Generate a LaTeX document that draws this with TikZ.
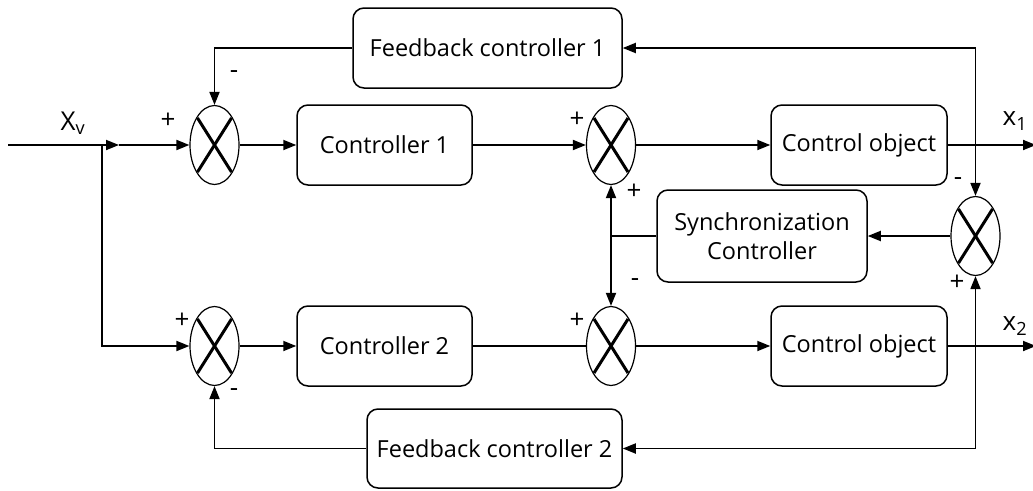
\documentclass[tikz,border=0pt]{standalone}
\usepackage{fontspec}
\setmainfont{Open Sans}
\usetikzlibrary{arrows.meta,shapes.geometric}
\begin{document}
\begin{tikzpicture}[x=1pt,y=-1pt,
 blk/.style={draw, line width=1.5pt, rounded corners=11pt, minimum height=80pt, font=\fontsize{23.5}{29}\selectfont, align=center, inner sep=0},
 sumj/.style={draw, ellipse, line width=1.2pt, minimum width=49pt, minimum height=79pt, inner sep=0},
 conn/.style={line width=1.8pt, -{Triangle[length=13pt,width=10pt]}},
 ln/.style={line width=1.8pt},
 crs/.style={line width=3pt},
 sgn/.style={font=\fontsize{26}{26}\selectfont, inner sep=0},
 lbl/.style={font=\fontsize{26}{26}\selectfont, inner sep=0},
]
\useasboundingbox (0,0) rectangle (1033,490);

% summing junctions
\node[sumj] (j1) at (214.5,145) {};
\node[sumj] (j2) at (611,145) {};
\node[sumj] (j3) at (214.5,346) {};
\node[sumj] (j4) at (611,346) {};
\node[sumj] (j5) at (975.5,236) {};
\foreach \j in {j1,j2,j3,j4,j5}{
  \draw[crs] ([shift={(-17,-27)}]\j.center) -- ([shift={(17,27)}]\j.center);
  \draw[crs] ([shift={(17,-27)}]\j.center) -- ([shift={(-17,27)}]\j.center);
}

% blocks
\node[blk, minimum width=175pt] (c1) at (384.5,145) {Controller 1};
\node[blk, minimum width=175pt] (c2) at (384.5,346) {Controller 2};
\node[blk, minimum width=176pt] (co1) at (859,145) {Control object};
\node[blk, minimum width=176pt] (co2) at (859,346) {Control object};
\node[blk, minimum width=269pt] (fc1) at (487.5,48) {Feedback controller 1};
\node[blk, minimum width=255pt, minimum height=79pt] (fc2) at (494.5,448.5) {Feedback controller 2};
\node[blk, minimum width=210pt, minimum height=92pt] (sc) at (762,236) {Synchronization\\Controller};

% coordinates
\coordinate (in) at (8,145);
\coordinate (br) at (102,145);
\coordinate (mid) at (119,145);
\coordinate (out1) at (1036,145);
\coordinate (out2) at (1036,346);
\coordinate (tap1) at (975.5,145);
\coordinate (tap2) at (975.5,346);
\coordinate (sn) at (611,236);

% connectors
\draw[conn] (in) -- (mid);
\draw[conn] (mid) -- (j1.west);
\draw[conn] (br) |- (j3.west);
\draw[conn] (j1.east) -- (c1.west);
\draw[conn] (c1.east) -- (j2.west);
\draw[conn] (j2.east) -- (co1.west);
\draw[conn] (co1.east) -- (out1);
\draw[conn] (j3.east) -- (c2.west);
\draw[ln] (c2.east) -- (j4.west);
\draw[conn] (j4.east) -- (co2.west);
\draw[conn] (co2.east) -- (out2);
\draw[conn] (tap1) |- (fc1.east);
\draw[conn] (tap1) -- (j5.north);
\draw[conn] (fc1.west) -| (j1.north);
\draw[conn] (tap2) |- (fc2.east);
\draw[conn] (tap2) -- (j5.south);
\draw[conn] (fc2.west) -| (j3.south);
\draw[conn] (j5.west) -- (sc.east);
\draw[ln] (sc.west) -- (sn);
\draw[conn] (sn) -- (j2.south);
\draw[conn] (sn) -- (j4.north);

% signs
\node[sgn] (s1) at (168,121) {+};
\node[sgn] (s2) at (234,75) {-};
\node[sgn] (s3) at (577,120) {+};
\node[sgn] (s4) at (634,192) {+};
\node[sgn] (s5) at (958,182) {-};
\node[sgn] (s6) at (957,283) {+};
\node[sgn] (s7) at (635,283) {-};
\node[sgn] (s8) at (577,321) {+};
\node[sgn] (s9) at (182,321) {+};
\node[sgn] (s10) at (234,393) {-};

% labels
\node[lbl] (xv) at (73,123) {X\textsubscript{v}};
\node[lbl] (x1) at (1015,121) {x\textsubscript{1}};
\node[lbl] (x2) at (1015,326) {x\textsubscript{2}};
\end{tikzpicture}
\end{document}
